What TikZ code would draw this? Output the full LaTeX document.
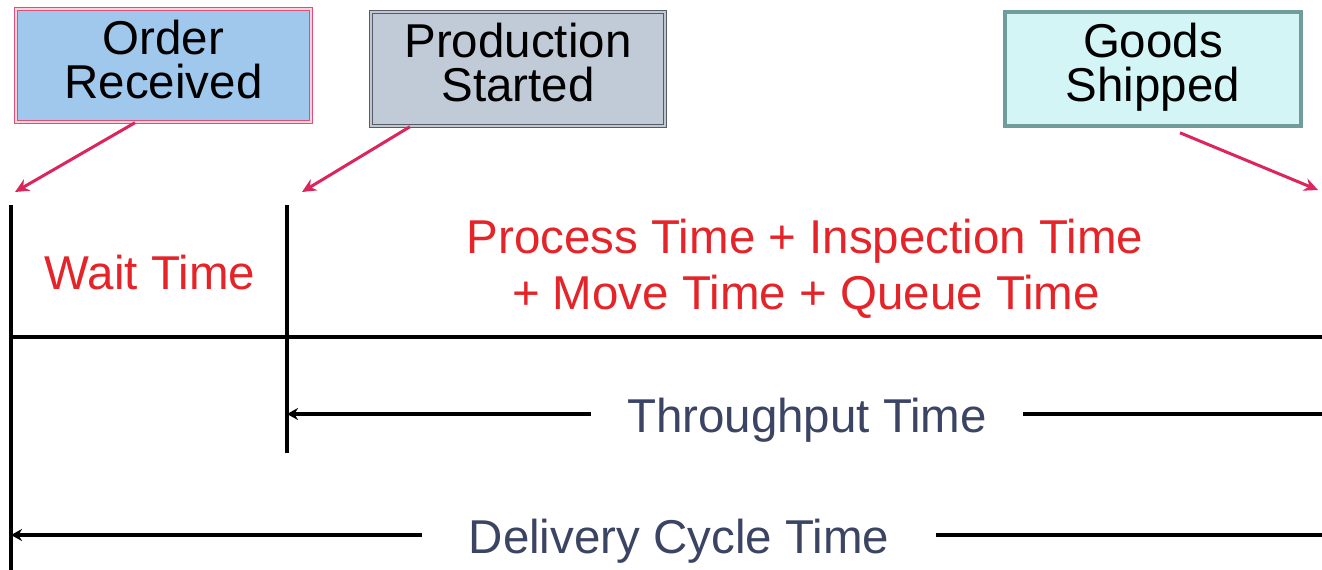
\documentclass[tikz,border=0pt]{standalone}
\usepackage{fontspec}
\setmainfont{Liberation Sans}
\usetikzlibrary{arrows.meta}

\definecolor{ordfill}{RGB}{160,199,236}
\definecolor{ordline}{RGB}{222,78,118}
\definecolor{prodfill}{RGB}{193,203,216}
\definecolor{prodline}{RGB}{84,92,108}
\definecolor{goodsfill}{RGB}{212,245,245}
\definecolor{goodsline}{RGB}{112,156,156}
\definecolor{pointer}{RGB}{218,38,92}
\definecolor{costred}{RGB}{228,36,40}
\definecolor{spanlabel}{RGB}{60,68,100}

\newcommand{\bigtext}{\fontsize{47.5pt}{44pt}\selectfont}

\tikzset{
  eventbox/.style={inner sep=0pt, align=center, font=\bigtext, text=black,
    text height=79pt, text depth=14pt},
  pointerarrow/.style={draw=pointer, line width=3pt,
    -{Stealth[length=14pt,width=13pt]}},
  timeline/.style={draw=black, line width=3.4pt},
  spanarrow/.style={draw=black, line width=3.4pt,
    -{Stealth[length=11pt,width=12pt]}},
  costtext/.style={font=\bigtext, text=costred, anchor=base, inner sep=0pt},
  spantext/.style={font=\bigtext, text=spanlabel, inner ysep=0pt,
    text height=36pt, text depth=0pt},
}

\begin{document}
\begin{tikzpicture}[x=1pt, y=-1pt]
  \useasboundingbox (0,0) rectangle (1322,570);

  % event boxes
  \node[eventbox, fill=ordfill, draw=ordline, double=ordline!25,
        line width=1.4pt, double distance=1.2pt,
        minimum width=295pt, minimum height=113pt]
        (ord) at (163.5,65.5) {Order\\Received};
  \node[eventbox, fill=prodfill, draw=prodline, double=prodline!35,
        line width=1.4pt, double distance=1.2pt,
        minimum width=294pt, minimum height=114pt]
        (prod) at (518,69) {Production\\Started};
  \node[eventbox, fill=goodsfill, draw=goodsline, line width=3.6pt,
        minimum width=296pt, minimum height=114pt]
        (goods) at (1153,69) {Goods\\Shipped};

  % time marks and right edge
  \coordinate (ordtop) at (11,205);
  \coordinate (ordbot) at (11,574);
  \coordinate (prodtop) at (287,205);
  \coordinate (prodbot) at (287,453);
  \coordinate (edge) at (1326,337);

  \coordinate (ordtip) at (15,192);
  \coordinate (prodtip) at (302,192);
  \coordinate (goodstip) at (1318,190);

  % pointers from the events to the time axis
  \draw[pointerarrow] ([xshift=-28.5pt]ord.south) -- (ordtip);
  \draw[pointerarrow] ([xshift=-108pt]prod.south) -- (prodtip);
  \draw[pointerarrow] ([xshift=27pt,yshift=-5pt]goods.south) -- (goodstip);

  % vertical marks and the main axis
  \draw[timeline] (ordtop) -- (ordbot);
  \draw[timeline] (prodtop) -- (prodbot);
  \draw[timeline] (ordtop |- edge) -- (edge);

  % cost components
  \node[costtext] (wait) at (150,289) {Wait Time};
  \node[costtext] (proc1) at (805,253) {Process Time + Inspection Time};
  \node[costtext] (proc2) at (806,309) {+ Move Time + Queue Time};

  % throughput span
  \node[spantext, inner xsep=36pt] (tput) at (807,414) {Throughput Time};
  \draw[spanarrow] (tput.west) -- (tput.west -| prodtop);
  \draw[timeline] (tput.east) -- (tput.east -| edge);

  % delivery cycle span
  \node[spantext, inner xsep=47pt] (deliv) at (679,535) {Delivery Cycle Time};
  \draw[spanarrow] (deliv.west) -- (deliv.west -| ordtop);
  \draw[timeline] (deliv.east) -- (deliv.east -| edge);
\end{tikzpicture}
\end{document}
